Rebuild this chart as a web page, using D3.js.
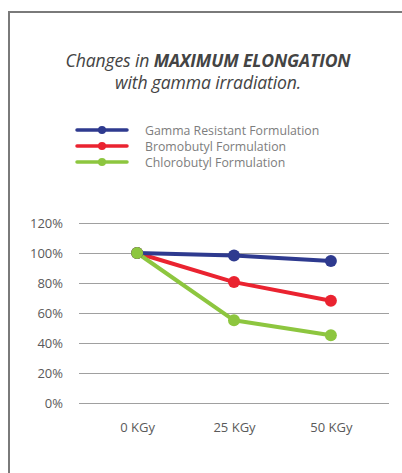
<!DOCTYPE html>
<html>
<head>
<meta charset="utf-8">
<script src="https://cdn.jsdelivr.net/npm/d3@7"></script>
<style>
    body { margin: 0; background: #fff; }
    svg { display: block; }
    .tick text { font-family: "Open Sans", sans-serif; fill: #5a5a5a; }
</style>
</head>
<body>
<div id="chart"></div>
<script>
// Data
const doses = ["0 KGy", "25 KGy", "50 KGy"];
const gammaResistant = [100, 98.4, 94.6];
const bromobutyl = [100, 80.6, 68.2];
const chlorobutyl = [100, 55.1, 45.1];
const yTicks = [0, 20, 40, 60, 80, 100, 120];

const seriesNames = ["Gamma Resistant Formulation", "Bromobutyl Formulation", "Chlorobutyl Formulation"];
const seriesColors = ["#2e3a8f", "#ea2330", "#8dc63f"];
const seriesValues = [gammaResistant, bromobutyl, chlorobutyl];

const width = 402,
    height = 473,
    margin = { left: 79, right: 13, top: 223, bottom: 70 };

const chartWidth = width - margin.left - margin.right;
const chartHeight = height - margin.top - margin.bottom;

const svg = d3.select("#chart").append("svg")
    .attr("width", width)
    .attr("height", height);

// frame (runs off the right and bottom edges)
svg.append("path")
    .attr("d", "M9,473 V12 H402")
    .attr("fill", "none")
    .attr("stroke", "#7a7a7a")
    .attr("stroke-width", 2);

// Title
const title = svg.append("text")
    .attr("text-anchor", "middle")
    .attr("font-family", "'Open Sans', sans-serif")
    .attr("font-style", "italic")
    .attr("font-size", 17.6)
    .attr("letter-spacing", -0.15)
    .attr("fill", "#444");
const line1 = title.append("tspan").attr("x", 208).attr("y", 67);
line1.append("tspan").text("Changes in ");
line1.append("tspan").attr("font-weight", "bold").text("MAXIMUM ELONGATION");
title.append("tspan").attr("x", 208).attr("y", 89).text("with gamma irradiation.");

// Scales
const xScale = d3.scalePoint().domain(doses).range([0, chartWidth]).padding(0.6);
const yScale = d3.scaleLinear().domain([0, 120]).range([chartHeight, 0]);

const g = svg.append("g")
    .attr("transform", "translate(" + margin.left + "," + margin.top + ")");

// gridlines + y labels
const yAxis = d3.axisLeft(yScale)
    .tickValues(yTicks)
    .tickSize(-chartWidth)
    .tickPadding(16)
    .tickFormat((d) => d + "%");
g.append("g").attr("class", "axis y").call(yAxis)
    .call((a) => a.select(".domain").remove())
    .call((a) => a.selectAll(".tick line").attr("stroke", "#a0a0a0"))
    .call((a) => a.selectAll(".tick text").attr("font-size", 13));

const xAxis = d3.axisBottom(xScale).tickSize(0).tickPadding(20);
g.append("g").attr("class", "axis x")
    .attr("transform", "translate(0," + chartHeight + ")")
    .call(xAxis)
    .call((a) => a.select(".domain").remove())
    .call((a) => a.selectAll(".tick text").attr("font-size", 13));

// Lines and markers: red first, then blue, green on top
const drawOrder = [1, 0, 2];
const line = d3.line()
    .x((d, i) => xScale(doses[i]))
    .y((d) => yScale(d));

drawOrder.forEach((s) => {
    g.append("path")
        .datum(seriesValues[s])
        .attr("fill", "none")
        .attr("stroke", seriesColors[s])
        .attr("stroke-width", 4)
        .attr("stroke-linejoin", "round")
        .attr("d", line);
});
drawOrder.forEach((s) => {
    g.selectAll(".dot-" + s)
        .data(seriesValues[s])
        .enter().append("circle")
        .attr("class", "dot-" + s)
        .attr("cx", (d, i) => xScale(doses[i]))
        .attr("cy", (d) => yScale(d))
        .attr("r", 6)
        .attr("fill", seriesColors[s]);
});

// Legend
const legend = svg.append("g").attr("transform", "translate(77,130)");
const rows = legend.selectAll("g")
    .data(seriesNames)
    .enter().append("g")
    .attr("transform", (d, i) => "translate(0," + (i * 16) + ")");
rows.append("line")
    .attr("x1", 0).attr("x2", 50)
    .attr("stroke", (d, i) => seriesColors[i])
    .attr("stroke-width", 3.5)
    .attr("stroke-linecap", "round");
rows.append("circle")
    .attr("cx", 25)
    .attr("r", 4)
    .attr("fill", (d, i) => seriesColors[i]);
rows.append("text")
    .attr("x", 68)
    .attr("y", 4.5)
    .attr("font-family", "'Open Sans', sans-serif")
    .attr("font-size", 12.3)
    .attr("fill", "#7d7d7d")
    .text((d) => d);
</script>
</body>
</html>
